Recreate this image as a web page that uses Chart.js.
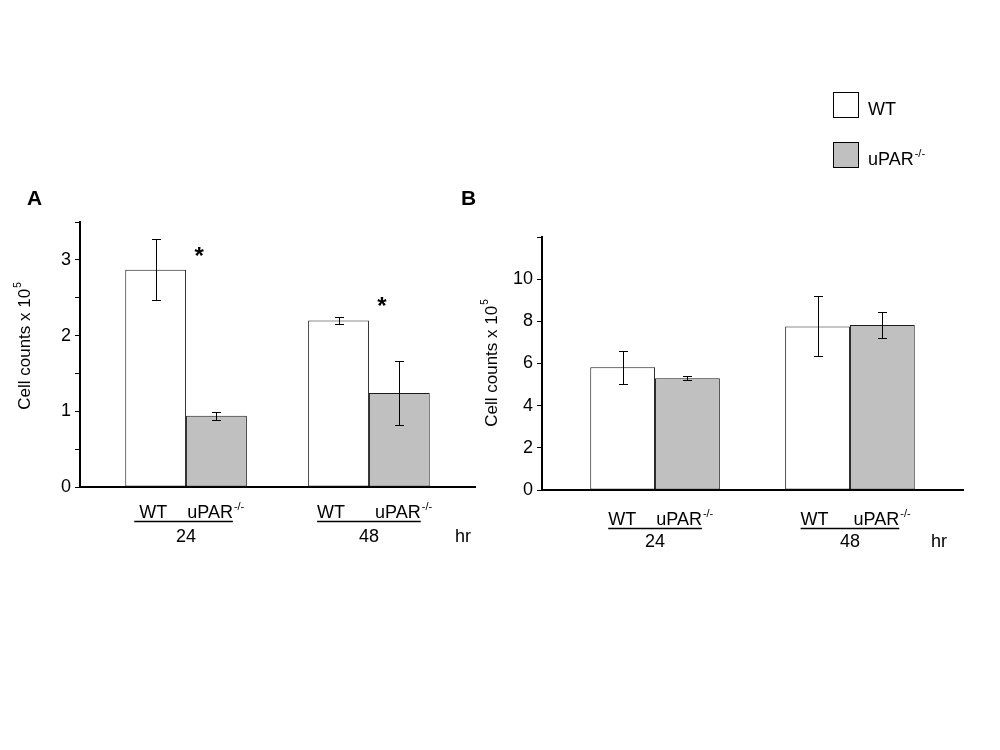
<!DOCTYPE html>
<html><head><meta charset="utf-8">
<script src="https://cdn.jsdelivr.net/npm/chart.js@4.4.1/dist/chart.umd.min.js"></script>
<style>
html,body{margin:0;padding:0;background:#fff;width:1000px;height:750px;overflow:hidden}
canvas{position:absolute;left:0;top:0}
</style></head>
<body>
<canvas id="chartA" width="1000" height="750"></canvas>
<canvas id="chartB" width="1000" height="750"></canvas>
<script>
// ---- data ----
const timepoints = ['24', '48'];
const seriesNames = ['WT', 'uPAR'];
const seriesSup = ['', '-/-'];
const groupLabelsA = ['WT    uPAR', 'WT      uPAR'];
const groupLabelsB = ['WT    uPAR', 'WT     uPAR'];

const wtA = [2.87, 2.20];
const wtAErr = [0.40, 0.05];
const koA = [0.94, 1.24];
const koAErr = [0.05, 0.42];
const starA = [3.12, 2.46];
const yTicksA = [0, 1, 2, 3];

const wtB = [5.82, 7.76];
const wtBErr = [0.78, 1.42];
const koB = [5.30, 7.83];
const koBErr = [0.10, 0.60];
const starB = [];
const yTicksB = [0, 2, 4, 6, 8, 10];

const FONT = '"Liberation Sans", Arial, sans-serif';
const WT_FILL = '#ffffff';
const KO_FILL = '#c0c0c0';
const EDGE = '#1a1a1a';
const TXT = 18;

function drawSup(ctx, base, sup, x, y, size, bold) {
  ctx.font = (bold ? 'bold ' : '') + size + 'px ' + FONT;
  ctx.textAlign = 'left';
  ctx.fillText(base, x, y);
  const w = ctx.measureText(base).width;
  if (sup) {
    ctx.font = Math.round(size * 0.6) + 'px ' + FONT;
    ctx.fillText(sup, x + w + 1, y - size * 0.42);
  }
  return w;
}

function makePlugin(cfg) {
  return {
    id: 'annot' + cfg.letter,
    afterDatasetsDraw(chart) {
      const ctx = chart.ctx;
      const ys = chart.scales.y;
      const area = chart.chartArea;
      ctx.save();
      ctx.fillStyle = '#000';
      ctx.strokeStyle = '#000';
      ctx.lineWidth = 1;
      // error bars
      chart.data.datasets.forEach((ds, di) => {
        const meta = chart.getDatasetMeta(di);
        meta.data.forEach((el, j) => {
          const v = ds.data[j].y, e = ds.errors[j];
          const yt = Math.round(ys.getPixelForValue(v + e)) + 0.5;
          const yb = Math.round(ys.getPixelForValue(v - e)) + 0.5;
          const x = Math.round(el.x) + 0.5;
          ctx.beginPath();
          ctx.moveTo(x, yt); ctx.lineTo(x, yb);
          ctx.moveTo(x - 4.5, yt); ctx.lineTo(x + 4.5, yt);
          ctx.moveTo(x - 4.5, yb); ctx.lineTo(x + 4.5, yb);
          ctx.stroke();
        });
      });
      // asterisks
      const koMeta = chart.getDatasetMeta(1);
      cfg.stars.forEach((sv, j) => {
        const el = koMeta.data[j];
        const x = el.x - el.width / 2 + 13;
        const y = ys.getPixelForValue(sv);
        ctx.font = 'bold 24px ' + FONT;
        ctx.textAlign = 'center';
        ctx.textBaseline = 'alphabetic';
        ctx.fillText('*', x, y + 13);
      });
      // group labels
      const wtMeta = chart.getDatasetMeta(0);
      timepoints.forEach((tp, j) => {
        const cx = (wtMeta.data[j].x + koMeta.data[j].x) / 2;
        const by = area.bottom + cfg.lab1;
        ctx.font = TXT + 'px ' + FONT;
        const w = ctx.measureText(cfg.groups[j]).width;
        const sx = cx - w / 2;
        drawSup(ctx, cfg.groups[j], seriesSup[1], sx, by, TXT);
        ctx.beginPath();
        ctx.lineWidth = 1.5;
        ctx.moveTo(sx - (j === 0 ? cfg.ulExtra : 0), by + 3.5);
        ctx.lineTo(sx + w, by + 3.5);
        ctx.stroke();
        ctx.font = TXT + 'px ' + FONT;
        ctx.textAlign = 'center';
        ctx.fillText(tp, cx, area.bottom + cfg.lab2);
      });
      ctx.font = TXT + 'px ' + FONT;
      ctx.textAlign = 'left';
      ctx.fillText('hr', area.right - cfg.hrOff, area.bottom + cfg.lab2);
      // panel letter
      ctx.font = 'bold 21px ' + FONT;
      ctx.fillText(cfg.letter, cfg.letterX, 205);
      // y title
      ctx.save();
      ctx.translate(cfg.titleX, cfg.titleY);
      ctx.rotate(-Math.PI / 2);
      ctx.textBaseline = 'middle';
      ctx.font = '17px ' + FONT;
      const base = 'Cell counts x 10';
      const bw = ctx.measureText(base).width;
      ctx.font = '10px ' + FONT;
      const tw = bw + 1 + ctx.measureText('5').width;
      drawSup(ctx, base, '5', -tw / 2, 0, 17);
      ctx.restore();
      // legend
      if (cfg.legend) {
        chart.data.datasets.forEach((ds, di) => {
          const top = 92 + di * 50;
          ctx.fillStyle = ds.backgroundColor;
          ctx.fillRect(833, top, 25, 25);
          ctx.strokeStyle = '#000';
          ctx.lineWidth = 1;
          ctx.strokeRect(833.5, top + 0.5, 25, 25);
          ctx.fillStyle = '#000';
          ctx.textBaseline = 'alphabetic';
          drawSup(ctx, seriesNames[di], seriesSup[di], 868, top + 23, 18);
        });
      }
      ctx.restore();
    }
  };
}

function build(id, wt, wtErr, ko, koErr, yMax, step, labelTicks, pad, xH, yW, cfg) {
  return new Chart(document.getElementById(id), {
    type: 'bar',
    data: {
      datasets: [
        { label: seriesNames[0], data: wt.map((v, i) => ({ x: i, y: v })), errors: wtErr,
          backgroundColor: WT_FILL, borderColor: EDGE, borderWidth: 1, borderSkipped: false },
        { label: seriesNames[1], data: ko.map((v, i) => ({ x: i, y: v })), errors: koErr,
          backgroundColor: KO_FILL, borderColor: EDGE, borderWidth: 1, borderSkipped: false }
      ]
    },
    options: {
      responsive: false,
      animation: false,
      devicePixelRatio: 1,
      categoryPercentage: 0.665,
      barPercentage: 1.0,
      layout: { padding: pad },
      plugins: { legend: { display: false }, tooltip: { enabled: false } },
      scales: {
        x: {
          type: 'linear', offset: false, min: -0.58, max: 1.58,
          afterBuildTicks: s => { s.ticks = timepoints.map((_, i) => ({ value: i })); },
          afterFit: s => { s.height = xH; },
          ticks: { display: false },
          grid: { display: false },
          border: { color: '#000', width: 2 }
        },
        y: {
          min: 0, max: yMax,
          afterFit: s => { s.width = yW; },
          ticks: { stepSize: step, color: '#000', padding: 4,
            font: { family: FONT, size: TXT },
            callback: v => labelTicks.includes(v) ? String(v) : '' },
          grid: { drawOnChartArea: false, drawTicks: true, tickLength: 5, color: '#000', lineWidth: 1 },
          border: { color: '#000', width: 2 }
        }
      }
    },
    plugins: [makePlugin(cfg)]
  });
}

build('chartA', wtA, wtAErr, koA, koAErr, 3.5, 0.5, yTicksA,
  { left: 0, top: 222, right: 525, bottom: 0 }, 263, 80,
  { letter: 'A', letterX: 27, stars: starA, groups: groupLabelsA, lab1: 31, lab2: 55, hrOff: 20,
    ulExtra: 5, titleX: 25, titleY: 346, legend: false });

build('chartB', wtB, wtBErr, koB, koBErr, 12, 2, yTicksB,
  { left: 470, top: 237, right: 37, bottom: 0 }, 260, 72,
  { letter: 'B', letterX: 461, stars: starB, groups: groupLabelsB, lab1: 35, lab2: 57, hrOff: 32,
    ulExtra: 0, titleX: 492, titleY: 363, legend: true });
</script>
</body></html>
